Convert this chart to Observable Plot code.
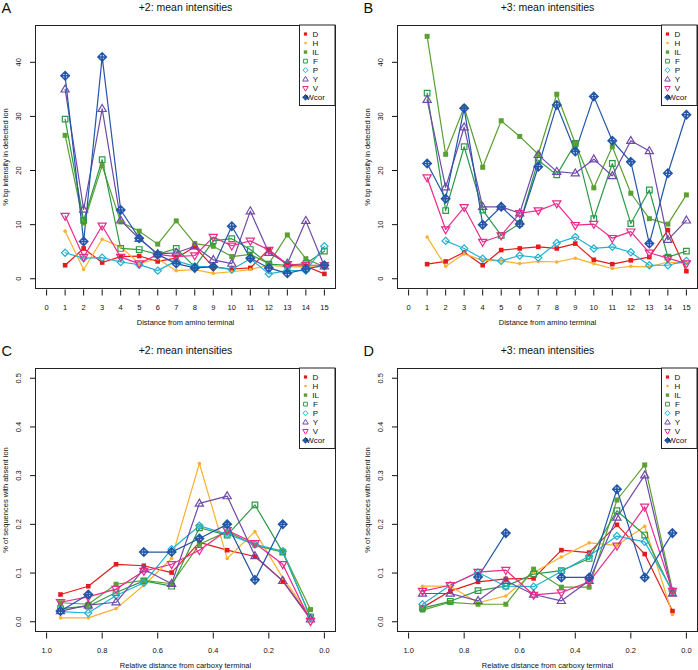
<!DOCTYPE html>
<html><head><meta charset="utf-8">
<script src="https://cdn.jsdelivr.net/npm/d3@7"></script>
<script src="https://cdn.jsdelivr.net/npm/@observablehq/plot@0.6"></script>
<style>
body{margin:0;background:#fff;}
#wrap{position:relative;width:698px;height:670px;overflow:hidden;background:#fff;}
.panel{position:absolute;}
</style></head><body><div id="wrap"></div>
<script>
// ---------- data ----------
const seriesNames = ["D","H","IL","F","P","Y","V","Wcor"];
const seriesColors = ["#e41a1c","#fbb12e","#5ba033","#2e9a48","#20b2d0","#6f4aa8","#ea2b8c","#2356a8"];

const xA = [1,2,3,4,5,6,7,8,9,10,11,12,13,14,15];
const xTicksA = [0,1,2,3,4,5,6,7,8,9,10,11,12,13,14,15];
const yTicksA = [0,10,20,30,40];

const A_D    = [2.5,5.6,3.0,4.1,4.2,3.2,3.8,5.9,2.2,1.8,2.0,5.4,2.5,2.3,0.9];
const A_H    = [8.8,1.7,7.3,5.9,2.8,3.7,1.5,1.7,1.0,1.3,1.7,2.5,2.2,2.2,2.2];
const A_IL   = [26.5,10.3,20.9,10.5,8.8,6.4,10.7,6.5,6.0,4.1,4.5,2.8,8.1,3.7,2.2];
const A_F    = [29.5,10.8,22.0,5.6,5.4,4.5,5.6,2.2,7.0,7.4,5.4,2.7,2.5,2.8,5.1];
const A_P    = [4.8,3.8,3.9,3.1,2.6,1.5,3.3,2.3,2.2,1.7,3.7,0.9,1.5,1.5,6.0];
const A_Y    = [35.0,12.8,31.4,10.8,7.4,4.6,4.8,6.0,3.5,2.8,12.5,4.8,2.8,10.7,2.3];
const A_V    = [11.6,4.0,9.8,4.0,2.8,4.5,4.1,4.3,7.7,6.1,7.0,5.3,2.7,2.5,2.5];
const A_Wcor = [37.5,6.9,41.0,12.7,7.5,4.5,2.8,2.0,2.2,9.7,3.8,2.0,1.0,1.8,2.5];

const B_D    = [2.7,3.2,4.9,2.5,5.3,5.6,5.9,5.6,6.5,3.5,2.7,3.4,4.0,9.0,1.4];
const B_H    = [7.7,2.3,4.6,3.4,3.3,2.8,3.2,3.1,3.8,2.8,1.9,2.3,2.2,3.1,2.8];
const B_IL   = [44.8,23.0,31.7,20.6,29.2,26.3,23.0,34.1,25.0,16.8,24.4,15.8,11.1,10.1,15.5];
const B_F    = [34.3,12.6,24.4,12.7,8.0,10.2,21.9,19.2,25.0,11.1,21.3,10.2,16.4,4.0,5.1];
const B_P    = [null,7.0,5.6,3.7,3.3,4.3,3.9,6.6,7.7,5.6,5.9,4.9,2.5,2.5,3.3];
const B_Y    = [33.1,16.9,28.0,13.3,13.3,12.1,22.9,19.8,19.5,22.1,19.0,25.5,23.6,7.2,10.8];
const B_V    = [18.7,9.1,13.2,6.8,8.0,12.1,12.6,13.9,9.9,10.1,7.5,8.7,4.8,3.8,2.8];
const B_Wcor = [21.3,14.8,31.5,10.0,13.3,10.1,20.7,32.1,23.5,33.7,25.5,21.6,6.5,19.5,30.3];

const xC = [0.95,0.85,0.75,0.65,0.55,0.45,0.35,0.25,0.15,0.05];
const xTicksC = [1.0,0.8,0.6,0.4,0.2,0.0];
const yTicksC = [0,0.1,0.2,0.3,0.4,0.5];

const C_D    = [0.056,0.073,0.118,0.115,0.101,0.163,0.147,0.134,0.084,0.008];
const C_H    = [0.008,0.008,0.027,0.075,0.130,0.325,0.130,0.185,0.090,0.012];
const C_IL   = [0.039,0.036,0.077,0.085,0.078,0.159,0.185,0.157,0.143,0.025];
const C_F    = [0.027,0.032,0.060,0.084,0.073,0.193,0.178,0.240,0.143,0.010];
const C_P    = [0.021,0.018,0.054,0.080,0.149,0.197,0.180,0.159,0.145,0.008];
const C_Y    = [0.022,0.034,0.040,0.108,0.078,0.243,0.258,0.135,0.084,0.005];
const C_V    = [0.040,0.051,0.067,0.104,0.118,0.147,0.188,0.161,0.118,0.001];
const C_Wcor = [0.022,0.056,null,0.143,0.143,0.171,0.200,0.086,0.200,null];

const D_D    = [0.029,0.063,0.082,0.088,0.089,0.147,0.142,0.199,0.139,0.022];
const D_H    = [0.073,0.073,0.039,0.053,0.101,0.133,0.162,0.157,0.196,0.015];
const D_IL   = [0.024,0.040,0.036,0.036,0.108,0.071,0.071,0.250,0.322,0.065];
const D_F    = [0.028,0.042,0.064,0.073,0.098,0.105,0.130,0.228,0.178,0.060];
const D_P    = [0.036,0.075,0.101,0.073,0.072,0.103,0.135,0.176,0.164,0.063];
const D_Y    = [0.058,0.058,0.043,0.084,0.056,0.043,0.084,0.214,0.301,0.058];
const D_V    = [0.063,0.075,0.102,0.106,0.055,0.060,0.082,0.156,0.236,0.063];
const D_Wcor = [null,null,0.092,0.182,null,0.091,0.091,0.272,0.091,0.182];

// ---------- symbols ----------
function mk(fn){ return {draw(ctx, size){ fn(ctx, Math.sqrt(size/Math.PI)); }}; }
const symSquare = mk((c,r)=>{c.moveTo(-r,-r);c.lineTo(r,-r);c.lineTo(r,r);c.lineTo(-r,r);c.closePath();});
const symCircle = mk((c,r)=>{c.moveTo(r,0);c.arc(0,0,r,0,2*Math.PI);});
const symDiamond = mk((c,r)=>{c.moveTo(0,-r);c.lineTo(r,0);c.lineTo(0,r);c.lineTo(-r,0);c.closePath();});
const symTriUp = mk((c,r)=>{c.moveTo(0,-r);c.lineTo(r*0.95,r*0.62);c.lineTo(-r*0.95,r*0.62);c.closePath();});
const symTriDown = mk((c,r)=>{c.moveTo(0,r);c.lineTo(r*0.95,-r*0.62);c.lineTo(-r*0.95,-r*0.62);c.closePath();});
const symDiamondPlus = mk((c,r)=>{c.moveTo(0,-r);c.lineTo(r,0);c.lineTo(0,r);c.lineTo(-r,0);c.closePath();
  c.moveTo(0,-r);c.lineTo(0,r);c.moveTo(-r,0);c.lineTo(r,0);});

const styles = [
  {sym: symSquare, r: 2.3, filled: true, lr: 1.6},
  {sym: symCircle, r: 1.8, filled: true, lr: 1.3},
  {sym: symSquare, r: 2.5, filled: true, lr: 1.7},
  {sym: symSquare, r: 2.8, filled: false, lr: 1.9},
  {sym: symDiamond, r: 3.6, filled: false, lr: 2.5},
  {sym: symTriUp, r: 4.3, filled: false, lr: 2.9},
  {sym: symTriDown, r: 4.3, filled: false, lr: 2.9},
  {sym: symDiamondPlus, r: 4.2, filled: false, lr: 2.8}
];

const FONT = "'Liberation Sans', Arial, Helvetica, sans-serif";
const wrap = document.getElementById("wrap");

function panel(o){
  const W = 336, H = 327, mL = 35, mT = 25, mB = 39, mR = 1;
  const marks = [];
  o.series.forEach((ys, i) => {
    const data = o.xs.map((x, j) => ({x, y: ys[j]}));
    marks.push(Plot.line(data, {x: "x", y: "y", stroke: seriesColors[i], strokeWidth: 1.2}));
  });
  o.series.forEach((ys, i) => {
    const data = o.xs.map((x, j) => ({x, y: ys[j]})).filter(d => d.y != null);
    const s = styles[i];
    marks.push(Plot.dot(data, {x: "x", y: "y", symbol: s.sym, r: s.r,
      fill: s.filled ? seriesColors[i] : "none",
      stroke: s.filled ? "none" : seriesColors[i],
      strokeWidth: i === 7 ? 1.5 : 1.2}));
  });
  marks.push(Plot.frame({stroke: "#222", strokeWidth: 1}));
  marks.push(Plot.axisX({ticks: o.xTicks, tickSize: 6, dy: 1.5, tickPadding: 9, fontSize: 7.5,
    tickFormat: o.xFmt, strokeWidth: 1, label: null}));
  marks.push(Plot.axisY({ticks: o.yTicks, tickSize: 5, tickFormat: () => "", label: null}));
  marks.push(Plot.text(o.yTicks, {y: d => d, text: o.yFmt, frameAnchor: "left", dx: -17, rotate: -90,
    textAnchor: "middle", lineAnchor: "middle", fontSize: 7.5}));
  marks.push(Plot.text([o.yLabel], {text: d => d, frameAnchor: "left", dx: -30, rotate: -90,
    textAnchor: "middle", lineAnchor: "middle", fontSize: 7.5}));
  marks.push(Plot.text([o.xLabel], {text: d => d, frameAnchor: "bottom", dy: 34,
    textAnchor: "middle", lineAnchor: "middle", fontSize: 7.5}));
  marks.push(Plot.text([o.title], {text: d => d, frameAnchor: "top", dy: -17.5,
    textAnchor: "middle", lineAnchor: "middle", fontSize: 10.5}));
  marks.push(Plot.text([o.letter], {text: d => d, frameAnchor: "top-left", dx: -34, dy: -17.5,
    textAnchor: "start", lineAnchor: "middle", fontSize: 14.5}));

  const svg = Plot.plot({
    width: W, height: H, marginLeft: mL, marginRight: mR, marginTop: mT, marginBottom: mB,
    x: {domain: o.xDomain, label: null}, y: {domain: o.yDomain, label: null},
    style: {fontFamily: FONT, background: "white", overflow: "visible", color: "#111"},
    marks
  });

  // legend box in the top-right corner of the frame
  const lw = 35.5, lh = 80.5;
  const fx = W - mR, fy = mT;
  const g = d3.select(svg).append("g").attr("transform", `translate(${fx - lw},${fy})`);
  g.append("rect").attr("width", lw).attr("height", lh).attr("fill", "white").attr("stroke", "#222").attr("stroke-width", 1);
  seriesNames.forEach((name, i) => {
    const s = styles[i];
    const p = d3.path();
    s.sym.draw(p, Math.PI * s.lr * s.lr);
    const yy = 9 + i * 9.05;
    g.append("path").attr("d", p.toString()).attr("transform", `translate(6,${yy})`)
      .attr("fill", s.filled || i === 7 ? seriesColors[i] : "none")
      .attr("stroke", s.filled ? "none" : seriesColors[i]).attr("stroke-width", 1);
    g.append("text").attr("x", 16).attr("y", yy).attr("dy", "0.35em")
      .attr("font-size", 8).attr("font-family", FONT).attr("fill", "#111").text(name);
  });

  const div = document.createElement("div");
  div.className = "panel";
  div.style.left = o.left + "px";
  div.style.top = o.top + "px";
  div.appendChild(svg);
  wrap.appendChild(div);
}

const fmtInt = d => String(d);
const fmt1 = d => d.toFixed(1);

panel({left: 0, top: 0, letter: "A", title: "+2: mean intensities", xs: xA,
  series: [A_D, A_H, A_IL, A_F, A_P, A_Y, A_V, A_Wcor],
  xDomain: [-0.6, 15.6], yDomain: [-1.8, 46.8], xTicks: xTicksA, yTicks: yTicksA,
  xFmt: fmtInt, yFmt: fmtInt, xLabel: "Distance from amino terminal", yLabel: "% bp intensity in detected ion"});
panel({left: 362, top: 0, letter: "B", title: "+3: mean intensities", xs: xA,
  series: [B_D, B_H, B_IL, B_F, B_P, B_Y, B_V, B_Wcor],
  xDomain: [-0.6, 15.6], yDomain: [-1.8, 46.8], xTicks: xTicksA, yTicks: yTicksA,
  xFmt: fmtInt, yFmt: fmtInt, xLabel: "Distance from amino terminal", yLabel: "% bp intensity in detected ion"});
panel({left: 0, top: 343, letter: "C", title: "+2: mean intensities", xs: xC,
  series: [C_D, C_H, C_IL, C_F, C_P, C_Y, C_V, C_Wcor],
  xDomain: [1.04, -0.04], yDomain: [-0.02, 0.52], xTicks: xTicksC, yTicks: yTicksC,
  xFmt: fmt1, yFmt: fmt1, xLabel: "Relative distance from carboxy terminal", yLabel: "% of sequences with absent ion"});
panel({left: 362, top: 343, letter: "D", title: "+3: mean intensities", xs: xC,
  series: [D_D, D_H, D_IL, D_F, D_P, D_Y, D_V, D_Wcor],
  xDomain: [1.04, -0.04], yDomain: [-0.02, 0.52], xTicks: xTicksC, yTicks: yTicksC,
  xFmt: fmt1, yFmt: fmt1, xLabel: "Relative distance from carboxy terminal", yLabel: "% of sequences with absent ion"});
</script>
</body></html>
